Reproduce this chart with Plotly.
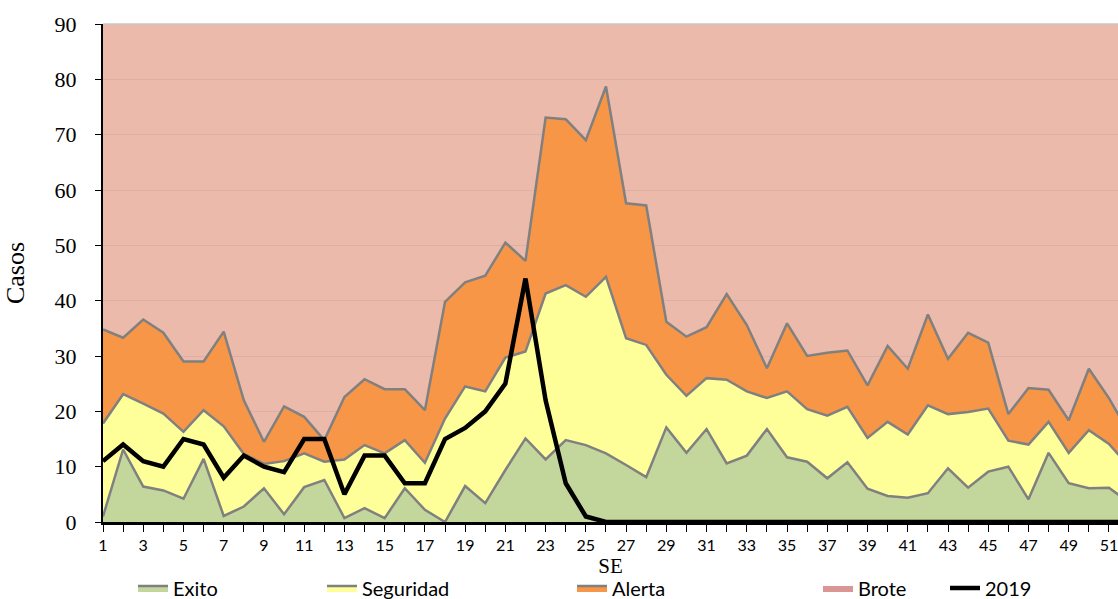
import plotly.graph_objects as go

weeks = list(range(1, 53))

# Upper limits of each zone of the endemic channel (cumulative levels)
exito = [1.0, 13.1, 6.4, 5.7, 4.2, 11.4, 1.1, 2.8, 6.1, 1.4, 6.3, 7.6, 0.7, 2.5, 0.7, 6.1, 2.2, 0.0,
         6.5, 3.4, 9.4, 15.1, 11.3, 14.8, 13.9, 12.4, 10.3, 8.1, 17.1, 12.5, 16.8, 10.6, 12.0, 16.8,
         11.7, 10.9, 7.9, 10.8, 6.0, 4.7, 4.4, 5.2, 9.7, 6.2, 9.1, 10.0, 4.1, 12.5, 7.0, 6.1, 6.2, 3.5]
seguridad = [17.8, 23.1, 21.4, 19.6, 16.3, 20.2, 17.3, 12.3, 10.5, 11.0, 12.4, 10.9, 11.3, 13.9, 12.4,
             14.8, 10.7, 18.7, 24.5, 23.6, 29.7, 30.8, 41.3, 42.8, 40.7, 44.3, 33.2, 32.0, 26.6, 22.8,
             26.0, 25.7, 23.6, 22.4, 23.6, 20.4, 19.2, 20.8, 15.2, 18.1, 15.8, 21.1, 19.5, 19.9, 20.5,
             14.7, 14.0, 18.1, 12.5, 16.6, 14.1, 10.0]
alerta = [34.8, 33.3, 36.6, 34.2, 29.0, 29.0, 34.4, 22.0, 14.5, 20.9, 19.0, 14.8, 22.6, 25.8, 24.0,
          24.0, 20.2, 39.8, 43.3, 44.5, 50.5, 47.2, 73.1, 72.8, 69.0, 78.7, 57.6, 57.2, 36.2, 33.5,
          35.2, 41.2, 35.6, 27.8, 35.9, 30.0, 30.6, 31.0, 24.7, 31.8, 27.7, 37.5, 29.5, 34.2, 32.4,
          19.5, 24.2, 23.9, 18.4, 27.7, 22.4, 16.0]
casos_2019 = [11, 14, 11, 10, 15, 14, 8, 12, 10, 9, 15, 15, 5, 12, 12, 7, 7, 15, 17, 20, 25, 44, 22, 7, 1,
              0, 0, 0, 0, 0, 0, 0, 0, 0, 0, 0, 0, 0, 0, 0, 0, 0, 0, 0, 0, 0, 0, 0, 0, 0, 0, 0]

W, H = 1118, 599
L, R, T, B = 103, 0, 24, 77
pw, ph = W - L - R, H - T - B

def px2paper_x(px):
    return (px - L) / pw

def px2paper_y(py):
    return (H - B - py) / ph

GREY = "#808080"
C_EXITO = "#c3d69b"
C_SEG = "#ffff99"
C_ALERTA = "#f79646"
C_BROTE = "#ebbaab"
C_BROTE_LEG = "#d99694"

legend_font = dict(family="Lato", size=20, color="#000000")

fig = go.Figure()
fig.add_trace(go.Scatter(x=weeks, y=exito, name="Exito", mode="lines", fill="tozeroy",
                         fillcolor=C_EXITO, line=dict(color=GREY, width=2.5), legend="legend"))
fig.add_trace(go.Scatter(x=weeks, y=seguridad, name="Seguridad", mode="lines", fill="tonexty",
                         fillcolor=C_SEG, line=dict(color=GREY, width=2.5), legend="legend2"))
fig.add_trace(go.Scatter(x=weeks, y=alerta, name="Alerta", mode="lines", fill="tonexty",
                         fillcolor=C_ALERTA, line=dict(color=GREY, width=2.5), legend="legend3"))
fig.add_trace(go.Scatter(x=[None], y=[None], name="Brote", mode="lines", fill="toself",
                         fillcolor=C_BROTE_LEG, line=dict(color=C_BROTE_LEG, width=0), legend="legend4"))
fig.add_trace(go.Scatter(x=weeks, y=casos_2019, name="2019", mode="lines",
                         line=dict(color="#000000", width=4.5), legend="legend5"))

ly = px2paper_y(588)
def leg(px):
    return dict(x=px2paper_x(px), y=ly, xanchor="left", yanchor="middle", orientation="h",
                font=legend_font, bgcolor="rgba(0,0,0,0)", itemwidth=30, tracegroupgap=0)

fig.update_layout(
    width=W, height=H,
    margin=dict(l=L, r=R, t=T, b=B, autoexpand=False),
    paper_bgcolor="white",
    plot_bgcolor=C_BROTE,
    showlegend=True,
    legend=leg(133), legend2=leg(322), legend3=leg(572), legend4=leg(818), legend5=leg(945),
    xaxis=dict(
        automargin=False,
        range=[1, 51.45], tickmode="linear", tick0=1, dtick=2,
        ticks="outside", ticklen=7, tickwidth=1.2, tickcolor="#000000",
        minor=dict(dtick=1, ticks="outside", ticklen=7, tickwidth=1.2, tickcolor="#000000"),
        showline=True, linecolor="#000000", linewidth=2.5,
        showgrid=False, zeroline=False, ticklabeloverflow="allow",
        tickfont=dict(family="Lato", size=16, color="#000000"),
        title=dict(text="SE", font=dict(family="Liberation Serif", size=21, color="#000000"), standoff=0),
    ),
    yaxis=dict(
        automargin=False,
        range=[0, 90], dtick=10,
        ticks="outside", ticklen=6, tickwidth=1.2, tickcolor="#000000",
        showline=True, linecolor="#000000", linewidth=2,
        showgrid=True, gridcolor="rgba(170,150,150,0.25)", gridwidth=1, zeroline=False,
        ticklabelstandoff=14, ticklabeloverflow="allow",
        tickfont=dict(family="Liberation Serif", size=22, color="#000000"),
        title=dict(text="Casos", font=dict(family="Liberation Serif", size=26, color="#000000"), standoff=22),
    ),
    shapes=[dict(type="line", xref="paper", yref="paper", x0=0, x1=1, y0=1, y1=1,
                 line=dict(color="#c8c8c8", width=1.5))],
)

fig.write_html(
    "out.html",
    config={"displayModeBar": False},
    post_script="document.body.style.margin='0';document.body.style.overflow='hidden';",
)
